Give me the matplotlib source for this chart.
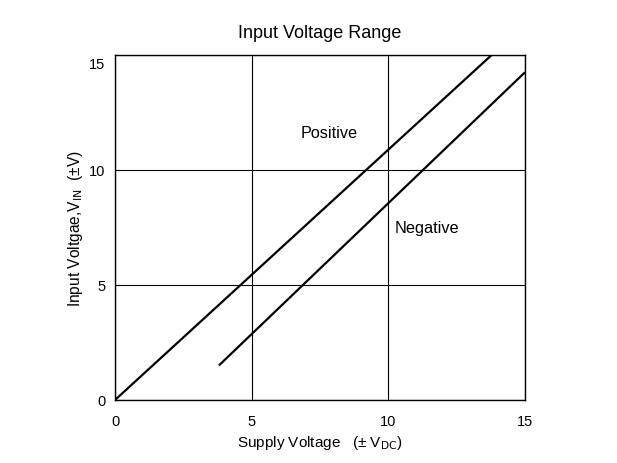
import matplotlib.pyplot as plt
import matplotlib.transforms as mtransforms

plt.rcParams['font.family'] = ['Liberation Sans', 'DejaVu Sans']

# datos
pos_x = [0, 13.78]
pos_y = [0, 15]
neg_x = [3.8, 15]
neg_y = [1.5, 14.25]
ticks = [0, 5, 10, 15]

fig = plt.figure(figsize=(6.17, 4.64), dpi=100)
ax = fig.add_axes([0.1864, 0.1358, 0.6645, 0.7435])

ax.plot(pos_x, pos_y, color='black', lw=1.6, solid_capstyle='butt')
ax.plot(neg_x, neg_y, color='black', lw=1.6, solid_capstyle='butt')

ax.set_xlim(0, 15)
ax.set_ylim(0, 15)
ax.set_xticks(ticks)
ax.set_yticks(ticks)
ax.tick_params(length=0, labelsize=10.5)
ax.tick_params(axis='y', pad=7)
ax.tick_params(axis='x', pad=10)
ax.grid(True, color='black', lw=0.8)
for s in ax.spines.values():
    s.set_linewidth(1.0)

# la etiqueta 15 del eje y esta un poco mas abajo en el original
lbl = ax.get_yticklabels()[-1]
lbl.set_transform(lbl.get_transform() + mtransforms.ScaledTranslation(0, -0.07, fig.dpi_scale_trans))

ax.text(7.85, 11.65, 'Positive', fontsize=11.7, ha='center', va='center')
ax.text(11.4, 7.5, 'Negative', fontsize=11.7, ha='center', va='center')

ax.set_title('Input Voltage Range', fontsize=13, pad=13)
ax.set_xlabel('Supply Voltage   (± V$_{\\mathrm{DC}}$)', fontsize=11, labelpad=4)
ax.set_ylabel('Input Voltgae,V$_{\\mathrm{IN}}$  (±V)', fontsize=11.2, labelpad=3)

fig.savefig('out.png', dpi=100)
